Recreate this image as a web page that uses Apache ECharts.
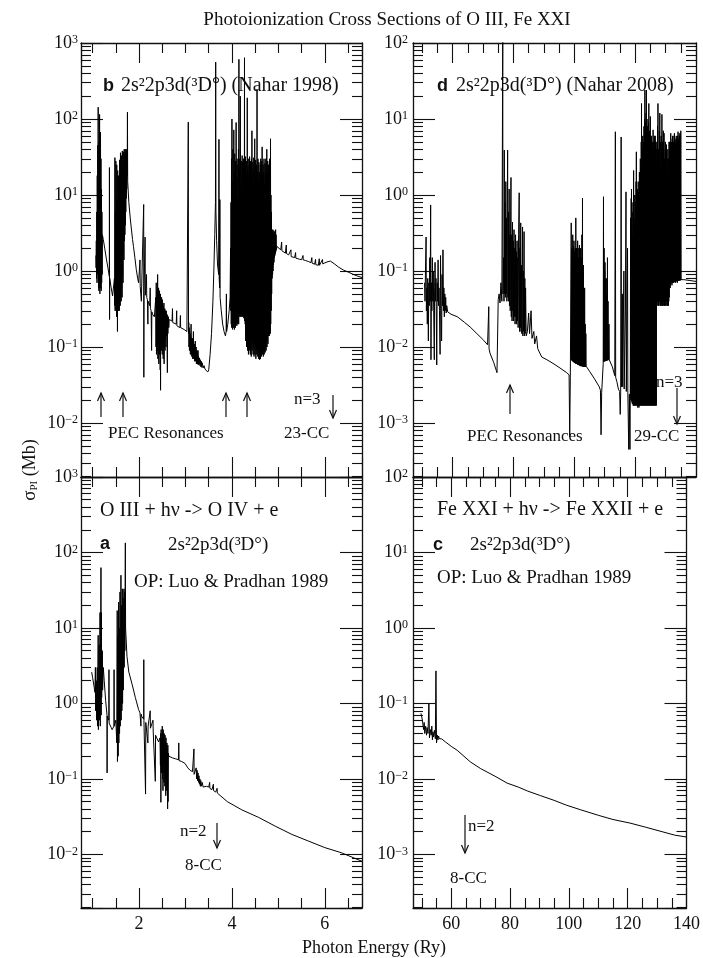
<!DOCTYPE html>
<html><head><meta charset="utf-8">
<script src="https://cdn.jsdelivr.net/npm/echarts@6.0.0/dist/echarts.min.js"></script>
<style>html,body{margin:0;padding:0;background:#fff}#c{width:703px;height:958px}</style>
</head><body><div id="c"></div>
<script>
// ---------------- DATA (photon energy in Ry, cross section in Mb) ----------------
// Panel b : O III 2s2 2p3d(3D°), Nahar 1998
const oiiiNahar = [
[1.07,1.6],[1.075,1.1],[1.08,2.5],[1.085,0.8],[1.09,6],[1.095,0.7],[1.10,18],[1.105,0.9],[1.11,45],[1.115,1.3],[1.12,143],[1.123,2.2],[1.127,0.6],[1.13,14],[1.135,0.55],[1.14,50],[1.145,0.7],[1.15,115],[1.153,1.5],[1.157,0.5],[1.16,25],[1.165,0.6],[1.17,67],[1.175,0.9],[1.18,30],[1.185,0.55],[1.19,12],[1.195,0.7],[1.20,6],[1.205,0.9],[1.21,3],
[1.23,2.6],[1.26,2.0],[1.30,1.4],[1.33,1.1],[1.36,0.85],[1.362,23],[1.365,0.23],[1.368,0.8],[1.40,0.6],[1.43,0.47],[1.45,0.45],
[1.47,0.8],[1.475,0.35],[1.48,31],[1.485,0.3],[1.49,6],[1.495,0.4],[1.50,28],[1.505,0.3],[1.51,4],[1.515,0.25],[1.52,25],[1.525,0.45],[1.53,9],[1.535,0.16],[1.54,21],[1.545,0.35],[1.55,5],[1.555,0.3],[1.56,18],[1.565,0.4],[1.57,11],[1.575,0.3],[1.58,29],[1.585,0.45],[1.59,8],[1.595,0.35],[1.60,36],[1.605,0.5],[1.61,14],[1.615,0.4],[1.62,33],[1.625,0.6],[1.63,19],[1.635,0.45],[1.64,38],[1.645,0.9],[1.65,24],[1.655,0.7],[1.66,37],[1.665,1.8],[1.67,29],[1.675,1.4],[1.68,40],[1.685,2.5],[1.69,33],[1.695,3],[1.70,40],[1.705,4],[1.71,35],[1.715,6],[1.72,40],[1.725,9],[1.73,37],[1.735,12],[1.74,40],[1.745,18],[1.75,123],[1.755,15],
[1.78,8],[1.81,5],[1.83,3.8],[1.86,2.6],[1.88,2.1],[1.91,1.5],[1.94,1.05],[1.97,0.8],[1.99,0.7],
[2.01,0.66],[2.02,1.4],[2.025,0.62],[2.04,0.6],[2.05,0.4],[2.055,0.58],[2.07,0.56],[2.085,0.55],[2.10,7.5],[2.103,0.04],[2.107,0.55],[2.12,0.52],[2.13,2.8],[2.135,0.48],[2.15,0.5],[2.16,0.9],[2.165,0.45],[2.18,0.42],[2.19,0.2],[2.195,0.4],[2.21,0.38],[2.23,0.35],[2.24,0.6],[2.245,0.32],[2.26,0.3],[2.27,0.09],[2.275,0.29],[2.29,0.27],[2.31,0.26],[2.33,0.25],[2.35,0.25],
[2.36,0.45],[2.365,0.1],[2.37,0.7],[2.375,0.08],[2.38,0.45],[2.385,0.12],[2.39,0.55],[2.395,0.09],[2.40,0.9],[2.405,0.07],[2.41,0.5],[2.415,0.12],[2.42,0.6],[2.425,0.06],[2.43,0.42],[2.435,0.1],[2.44,0.55],[2.445,0.08],[2.45,0.4],[2.455,0.05],[2.46,0.5],[2.463,0.027],[2.467,0.45],[2.47,0.12],[2.475,0.38],[2.48,0.09],[2.485,0.45],[2.49,0.13],[2.495,0.35],[2.50,0.08],[2.505,0.42],[2.51,0.11],[2.515,0.35],[2.52,0.07],[2.525,0.33],[2.53,0.1],[2.535,0.38],[2.54,0.06],[2.545,0.3],[2.55,0.12],[2.555,0.32],[2.56,0.09],[2.565,0.3],[2.57,0.13],[2.575,0.28],[2.58,0.1],[2.585,0.3],[2.59,0.14],[2.60,0.27],[2.605,0.08],[2.61,0.046],[2.615,0.26],[2.62,0.15],[2.63,0.25],[2.64,0.18],[2.65,0.23],
[2.68,0.22],[2.71,0.22],[2.72,0.32],[2.725,0.21],[2.76,0.2],[2.80,0.2],[2.81,0.3],[2.815,0.19],[2.85,0.19],[2.88,0.18],[2.89,0.26],[2.895,0.18],[2.93,0.17],[2.97,0.17],[3.00,0.17],[3.03,0.16],[3.05,0.16],
[3.06,91],[3.065,0.15],
[3.07,0.21],[3.075,0.1],[3.08,0.18],[3.085,0.09],[3.09,0.16],[3.095,0.1],[3.10,0.15],[3.105,0.08],[3.11,0.14],[3.115,0.09],[3.12,0.2],[3.125,0.08],[3.13,0.13],[3.135,0.075],[3.14,0.12],[3.145,0.085],[3.15,0.13],[3.155,0.07],[3.16,0.11],[3.165,0.08],[3.17,0.16],[3.175,0.07],[3.18,0.1],[3.185,0.075],[3.19,0.11],[3.195,0.065],[3.20,0.1],[3.205,0.07],[3.21,0.12],[3.215,0.065],[3.22,0.09],[3.225,0.07],[3.23,0.1],[3.235,0.06],[3.24,0.085],[3.245,0.065],[3.25,0.09],[3.255,0.06],[3.26,0.08],[3.265,0.062],[3.27,0.09],[3.275,0.058],[3.28,0.075],[3.29,0.06],[3.30,0.072],[3.31,0.057],[3.32,0.068],[3.33,0.055],[3.34,0.065],[3.35,0.054],[3.36,0.062],[3.38,0.053],[3.40,0.057],[3.42,0.051],[3.44,0.053],[3.46,0.049],[3.48,0.047],[3.50,0.05],
[3.53,0.08],[3.56,0.15],[3.59,0.4],[3.61,1.0],[3.63,3],[3.645,8],[3.65,560],[3.655,6],[3.67,2.5],[3.69,1.2],[3.715,0.9],[3.72,54],[3.725,0.8],[3.735,0.6],[3.74,8.7],[3.745,0.45],[3.77,0.3],[3.80,0.2],[3.83,0.16],[3.86,0.14],[3.875,0.16],[3.88,0.5],[3.885,0.16],[3.91,0.2],[3.94,0.3],[3.96,0.45],
[3.97,2],[3.975,0.3],[3.98,8],[3.985,0.2],[3.99,30],[3.995,0.18],[4.00,100],[4.005,0.2],[4.01,15],[4.015,0.17],[4.02,40],[4.025,0.2],[4.03,10],[4.035,0.18],[4.04,72],[4.045,0.22],[4.05,20],[4.055,0.17],[4.06,35],[4.065,0.2],[4.07,12],[4.075,0.18],[4.08,28],[4.085,0.2],[4.09,90],[4.095,0.21],[4.10,18],[4.105,0.19],[4.11,30],[4.115,0.24],[4.12,9],[4.125,0.2],[4.13,25],[4.135,0.22],[4.14,40],[4.145,0.2],[4.15,610],[4.155,0.25],[4.16,22],[4.165,0.26],[4.17,30],[4.175,0.25],[4.18,200],[4.185,0.27],[4.19,15],[4.195,0.25],[4.20,28],[4.205,0.26],[4.21,12],[4.215,0.25],[4.22,33],[4.225,0.27],[4.23,27],[4.235,0.25],[4.24,18],[4.245,0.26],[4.25,30],[4.255,0.24],[4.26,14],[4.265,0.25],[4.27,640],[4.275,0.22],[4.28,25],[4.285,0.2],[4.29,32],[4.295,0.12],[4.30,18],[4.305,0.15],[4.31,28],[4.315,0.1],[4.32,12],[4.325,0.13],[4.33,190],[4.335,0.09],[4.34,20],[4.345,0.12],[4.35,30],[4.355,0.08],[4.36,15],[4.365,0.11],[4.37,25],[4.375,0.09],[4.38,32],[4.385,0.12],[4.39,10],[4.395,0.08],[4.40,28],[4.405,0.1],[4.41,18],[4.415,0.075],[4.42,30],[4.425,0.11],[4.43,70],[4.435,0.09],[4.44,20],[4.445,0.12],[4.45,27],[4.455,0.08],[4.46,14],[4.465,0.1],[4.47,31],[4.475,0.075],[4.48,22],[4.485,0.11],[4.49,55],[4.495,0.08],[4.50,18],[4.505,0.1],[4.51,29],[4.515,0.07],[4.52,12],[4.525,0.09],[4.53,25],[4.535,0.08],[4.54,245],[4.545,0.11],[4.55,20],[4.555,0.075],[4.56,30],[4.565,0.1],[4.57,15],[4.575,0.07],[4.58,27],[4.585,0.09],[4.59,20],[4.595,0.068],[4.60,11.7],[4.605,0.09],[4.61,25],[4.615,0.07],[4.62,30],[4.625,0.1],[4.63,16],[4.635,0.075],[4.64,28],[4.645,0.09],[4.65,43],[4.655,0.08],[4.66,18],[4.665,0.1],[4.67,25],[4.675,0.075],[4.68,20],[4.685,0.09],[4.69,30],[4.695,0.08],[4.70,14],[4.705,0.11],[4.71,26],[4.715,0.085],[4.72,18],[4.725,0.1],[4.73,30],[4.735,0.09],[4.74,22],[4.745,0.12],[4.75,40],[4.755,0.1],[4.76,16],[4.765,0.13],[4.77,28],[4.775,0.11],[4.78,20],[4.785,0.14],[4.79,25],[4.795,0.15],[4.80,12],[4.805,0.14],[4.81,30],[4.815,0.16],[4.82,18],[4.825,0.15],[4.83,55],[4.835,0.2],[4.84,10],[4.845,0.3],[4.85,6],[4.855,0.5],[4.86,3.5],[4.865,0.8],[4.87,3.2],[4.875,0.9],[4.88,3.5],[4.885,1.0],[4.89,3],[4.895,1.2],[4.90,3.4],[4.905,1.3],[4.91,3],[4.915,1.5],[4.92,3.3],[4.925,1.6],[4.93,3],[4.935,1.7],[4.94,3.5],[4.945,1.8],[4.95,3],[4.955,1.9],
[4.97,2.1],[5.0,2.0],[5.05,1.9],[5.07,2.4],[5.075,1.85],[5.1,1.8],[5.15,1.72],[5.17,2.2],[5.175,1.7],[5.22,1.63],[5.25,1.58],[5.27,1.9],[5.275,1.55],[5.3,1.53],[5.35,1.5],[5.37,1.75],[5.375,1.48],[5.4,1.46],[5.45,1.43],[5.5,1.41],[5.53,1.6],[5.535,1.4],[5.58,1.38],[5.65,1.33],[5.7,1.29],[5.72,1.5],[5.725,1.27],[5.78,1.23],[5.80,1.42],[5.805,1.21],[5.83,1.2],[5.86,1.19],[5.88,1.45],[5.885,1.19],[5.92,1.22],[5.95,1.42],[5.955,1.24],[6.0,1.28],[6.07,1.33],[6.12,1.35],[6.2,1.25],[6.3,1.12],[6.4,1.03],[6.5,0.97],[6.6,0.91],[6.7,0.86],[6.8,0.82]
];

// Panel d : Fe XXI 2s2 2p3d(3D°), Nahar 2008
const fexxiNahar = [
[50.8,0.07],[50.95,0.04],[51.1,0.1],[51.3,0.28],[51.4,0.03],[51.55,0.06],[51.7,0.02],[51.85,0.08],[52.05,0.012],[52.2,0.07],[52.35,0.035],[52.5,0.15],[52.65,0.04],[52.8,0.74],[52.9,0.0068],[53.05,0.07],[53.2,0.03],[53.35,0.15],[53.5,0.04],[53.65,0.1],[53.8,0.03],[54.0,0.0068],[54.1,0.06],[54.25,0.13],[54.4,0.04],[54.55,0.08],[54.8,0.0058],[54.95,0.07],[55.1,0.04],[55.25,0.14],[55.4,0.035],[55.55,0.06],[55.7,0.03],[55.9,0.008],[56.05,0.16],[56.2,0.03],[56.4,0.012],[56.55,0.09],[56.7,0.035],[56.85,0.19],[57.0,0.03],[57.15,0.06],[57.3,0.025],[57.45,0.05],[57.6,0.03],[57.75,0.045],[57.9,0.028],[58.1,0.035],[58.4,0.029],[58.9,0.028],
[59.5,0.027],[61.6,0.025],[64,0.021],[66,0.018],[68,0.015],[70.2,0.0123],[71.5,0.0107],[71.9,0.034],[72.0,0.0095],[72.3,0.0083],[73.5,0.0063],[74.6,0.0046],
[75.0,0.042],[75.3,0.05],[75.6,0.038],[75.9,0.07],[76.2,0.04],[76.5,150],[76.55,0.05],[76.8,0.15],[76.9,0.04],[77.0,3.9],[77.1,0.05],[77.25,0.8],[77.35,0.045],[77.5,1.5],[77.6,0.05],[77.75,0.5],[77.85,0.04],[78.0,0.9],[78.1,3.9],[78.2,0.045],[78.35,0.6],[78.45,0.04],[78.6,1.2],[78.7,0.035],[78.85,0.3],[78.95,0.03],[79.1,0.6],[79.2,1.7],[79.3,0.025],[79.45,0.3],[79.55,0.022],[79.7,0.44],[79.8,0.03],[79.95,0.25],[80.05,0.022],[80.2,0.35],[80.3,0.025],[80.45,0.2],[80.55,0.02],[80.7,0.3],[80.8,0.025],[80.95,0.18],[81.05,0.02],[81.2,0.25],[81.3,0.022],[81.45,0.15],[81.55,0.018],[81.7,0.3],[81.9,1.07],[82.0,0.016],[82.15,0.2],[82.25,0.018],[82.4,0.43],[82.5,0.016],[82.65,0.12],[82.75,0.015],[83.0,0.38],[83.1,0.014],[83.25,0.1],[83.35,0.016],[83.5,0.33],[83.6,0.014],[83.75,0.08],[83.85,0.015],[84.0,0.06],[84.2,0.014],[84.6,0.016],
[85.0,0.028],[85.3,0.015],[85.8,0.03],[86.1,0.013],[86.7,0.016],[87.0,0.011],[87.6,0.014],[88.0,0.0095],[89.3,0.0074],[91,0.0068],[93,0.0061],[95,0.0054],[97.5,0.0046],
[98.3,0.0043],[98.5,0.00066],[98.7,0.004],
[99.0,0.43],[99.05,0.007],[99.1,0.1],[99.15,0.0068],[99.2,0.2],[99.25,0.0066],[99.3,0.08],[99.35,0.0068],[99.4,0.15],[99.45,0.0065],[99.5,0.3],[99.55,0.0066],[99.6,0.1],[99.65,0.0064],[99.7,0.21],[99.75,0.0065],[99.8,0.12],[99.85,0.0063],[99.9,0.25],[99.95,0.0064],[100.0,0.1],[100.05,0.0062],[100.1,0.18],[100.15,0.0063],[100.2,0.08],[100.25,0.0062],[100.3,0.2],[100.35,0.0061],[100.4,0.12],[100.45,0.0062],[100.5,0.5],[100.55,0.006],[100.6,0.1],[100.65,0.0061],[100.7,0.2],[100.75,0.006],[100.8,0.07],[100.85,0.0061],[100.9,0.15],[100.95,0.006],[101.0,0.1],[101.05,0.0059],[101.1,0.25],[101.15,0.006],[101.2,0.08],[101.25,0.0059],[101.3,0.15],[101.35,0.0058],[101.4,0.06],[101.45,0.0059],[101.5,0.2],[101.55,0.0058],[101.6,0.1],[101.65,0.0057],[101.7,0.22],[101.75,0.0058],[101.8,0.05],[101.85,0.0057],[101.9,0.12],[101.95,0.0058],[102.0,0.07],[102.05,0.0057],[102.1,0.2],[102.15,0.0056],[102.2,0.05],[102.25,0.0057],[102.3,0.15],[102.35,0.0056],[102.4,0.08],[102.45,0.0057],[102.5,0.3],[102.55,0.0056],[102.6,0.06],[102.65,0.0056],[102.7,0.91],[102.75,0.0056],[102.8,0.1],[102.85,0.0055],[102.9,0.04],[102.95,0.0056],[103.0,0.12],[103.1,0.0055],[103.2,0.03],[103.3,0.0055],[103.4,0.06],[103.5,0.0055],[103.6,0.02],[103.7,0.0055],[103.8,0.015],[103.9,0.0056],
[105,0.0048],[106.5,0.0039],[108.2,0.003],
[108.6,0.0027],[108.8,0.0007],[109.0,0.0025],[109.5,0.006],[109.6,0.95],[109.65,0.0065],[109.7,0.1],[109.75,0.0064],[109.8,0.2],[109.85,0.0066],[109.9,0.05],[109.95,0.0065],[110.0,0.1],[110.05,0.0066],[110.1,0.13],[110.15,0.0065],[110.2,0.04],[110.25,0.0066],[110.3,0.08],[110.35,0.0067],[110.4,0.03],[110.45,0.0066],[110.5,0.08],[110.55,0.0067],[110.6,0.02],[110.65,0.0066],[110.7,0.05],[110.75,0.0067],[110.8,0.015],[110.85,0.0067],[110.9,0.15],[110.95,0.0068],[111.0,0.02],[111.05,0.0067],[111.1,0.04],[111.15,0.0068],[111.2,0.012],[111.3,0.0068],[111.4,0.02],[111.5,0.0068],[111.8,0.0068],
[112.5,0.0055],[113.3,0.0042],[113.5,6.8],[113.6,0.004],[114.0,0.0035],[114.5,0.0028],[114.9,0.0026],[115.1,0.0013],[115.25,0.0025],[115.4,5.8],[115.5,0.003],[115.8,0.05],[115.9,0.003],
[116.3,0.1],[116.4,0.0028],[116.8,0.03],[117.0,1.1],[117.1,0.0026],[117.5,0.2],[117.6,0.0025],[117.9,0.00045],[118.1,0.0024],[118.3,0.00045],[118.4,0.0022],
[118.5,0.5],[118.55,0.0022],[118.6,0.2],[118.65,0.002],[118.7,0.9],[118.75,0.0021],[118.8,1.2],[118.85,0.002],[118.9,0.3],[118.95,0.0019],[119.0,0.6],[119.05,0.0018],[119.1,0.3],[119.15,0.0019],[119.2,0.15],[119.25,0.0018],[119.3,0.8],[119.35,0.0017],[119.4,0.4],[119.45,0.0018],[119.5,2.1],[119.55,0.0017],[119.6,0.5],[119.65,0.0018],[119.7,0.25],[119.75,0.0017],[119.8,0.4],[119.85,0.0018],[119.9,1.0],[119.95,0.0017],[120.0,0.3],[120.05,0.0018],[120.1,0.8],[120.15,0.0017],[120.2,0.5],[120.25,0.0019],[120.3,1.5],[120.35,0.0017],[120.4,3.7],[120.45,0.0018],[120.5,0.6],[120.55,0.0017],[120.6,0.3],[120.65,0.0018],[120.7,0.5],[120.75,0.0017],[120.8,1.2],[120.85,0.0016],[120.9,0.4],[120.95,0.0017],[121.0,1.5],[121.05,0.0018],[121.1,0.6],[121.15,0.0017],[121.2,1.1],[121.25,0.0016],[121.3,0.8],[121.35,0.0017],[121.4,2.0],[121.45,0.0018],[121.5,0.6],[121.55,0.0017],[121.6,1.4],[121.65,0.0018],[121.7,3.0],[121.75,0.0017],[121.8,2.5],[121.85,0.0018],[121.9,1.0],[121.95,0.0017],[122.0,5.0],[122.05,0.0018],[122.1,16],[122.15,0.0017],[122.2,2.0],[122.25,0.0018],[122.3,4.0],[122.35,0.0017],[122.4,1.8],[122.45,0.0018],[122.5,6.0],[122.55,0.0017],[122.6,3.0],[122.65,0.0018],[122.7,5.0],[122.75,0.0017],[122.8,2.0],[122.85,0.0018],[122.9,8.0],[122.95,0.0017],[123.0,3.0],[123.05,0.0018],[123.1,10],[123.15,0.0017],[123.2,24],[123.25,0.0018],[123.3,5],[123.35,0.0017],[123.4,9],[123.45,0.0018],[123.5,4],[123.55,0.0017],[123.6,12],[123.65,0.0018],[123.7,24],[123.75,0.0017],[123.8,6],[123.85,0.0018],[123.9,10],[123.95,0.0017],[124.0,6],[124.05,0.0018],[124.1,8],[124.15,0.0017],[124.2,4],[124.25,0.0018],[124.3,3],[124.35,0.0017],[124.4,9],[124.45,0.0018],[124.5,16],[124.55,0.0017],[124.6,5],[124.65,0.0018],[124.7,7],[124.75,0.0017],[124.8,4],[124.85,0.0018],[124.9,6],[124.95,0.0017],[125.0,10.8],[125.05,0.0018],[125.1,3],[125.15,0.0017],[125.2,5],[125.25,0.0018],[125.3,2],[125.35,0.0017],[125.4,6],[125.45,0.0018],[125.5,3],[125.55,0.0017],[125.6,5],[125.65,0.0018],[125.7,2.5],[125.75,0.0017],[125.8,4],[125.85,0.0018],[125.9,7.2],[125.95,0.0017],[126.0,3],[126.05,0.0018],[126.1,5],[126.15,0.0017],[126.2,3],[126.25,0.0018],[126.3,6],[126.35,0.0017],[126.4,2],[126.45,0.0018],[126.5,4],[126.55,0.0017],[126.6,6],[126.65,0.0018],[126.7,3],[126.75,0.0017],[126.8,5],[126.85,0.0018],[126.9,4],[126.95,0.0017],
[127.0,0.035],[127.1,3],[127.15,0.04],[127.2,5],[127.25,0.035],[127.35,8],[127.4,0.04],[127.5,16],[127.55,0.04],[127.65,4],[127.7,0.035],[127.8,3],[127.85,0.035],[127.95,7],[128.0,0.04],[128.1,12],[128.15,0.04],[128.25,5],[128.3,0.035],[128.4,2],[128.45,0.035],[128.55,6],[128.6,0.04],[128.7,4],[128.75,0.035],[128.8,11.5],[128.85,0.04],[128.95,5],[129.0,0.035],[129.1,3],[129.15,0.035],[129.25,7],[129.3,0.04],[129.4,4],[129.45,0.035],[129.5,6.5],[129.55,0.04],[129.65,3],[129.7,0.035],[129.8,2.5],[129.85,0.035],[129.95,5],[130.0,0.04],[130.1,3],[130.15,0.035],[130.3,4.6],[130.35,0.04],[130.45,3],[130.5,0.035],[130.6,2],[130.65,0.035],[130.75,4],[130.8,0.04],[130.9,3],[130.95,0.035],[131.0,3],[131.05,0.04],[131.15,5],[131.2,0.045],
[131.3,4],[131.35,0.06],[131.4,5],[131.5,0.06],[131.6,4.5],[131.65,0.065],[131.7,6.5],[131.8,0.07],[131.9,5],[131.95,0.07],[132.0,4],[132.1,0.065],[132.2,5.5],[132.25,0.07],[132.3,6],[132.4,0.07],[132.5,4.5],[132.55,0.07],[132.6,5],[132.7,0.07],[132.8,6],[132.85,0.072],[132.9,6.5],[133.0,0.075],[133.1,5],[133.15,0.072],[133.2,4.5],[133.3,0.07],[133.4,5.5],[133.45,0.073],[133.5,6],[133.6,0.075],[133.7,5],[133.75,0.073],[133.8,5],[133.9,0.07],[134.0,6],[134.05,0.074],[134.1,6.8],[134.2,0.075],[134.3,5],[134.35,0.075],[134.4,5.5],[134.5,0.075],[134.6,6],[134.65,0.076],[134.7,6.5],[134.8,0.075],[134.9,6],[134.95,0.076],[135.0,7],[135.1,0.077],
[136,0.077],[138,0.075],[140,0.073]
];

// Panel a : O III, Opacity Project (Luo & Pradhan 1989)
const oiiiOP = [
[0.98,2.6],[1.0,2.2],[1.03,1.7],[1.05,1.4],[1.06,3],[1.065,0.8],[1.08,2],[1.085,0.6],[1.10,3],[1.105,0.5],[1.12,8],[1.125,0.45],[1.14,6],[1.145,0.6],[1.16,16],[1.165,0.5],[1.18,63],[1.185,0.7],[1.19,16],[1.195,1.2],[1.21,5],[1.215,1.5],[1.23,3],
[1.25,2],[1.28,1.1],[1.31,0.7],[1.312,0.12],[1.315,0.68],[1.35,0.6],[1.352,2.8],[1.355,0.55],[1.40,0.48],[1.42,0.45],[1.46,0.5],[1.462,2.8],[1.465,0.5],
[1.50,0.6],[1.52,0.3],[1.53,17],[1.535,0.17],[1.545,8],[1.55,0.2],[1.56,22],[1.565,0.3],[1.575,10],[1.58,0.4],[1.59,30],[1.595,0.5],[1.61,50],[1.615,0.6],[1.625,20],[1.63,0.8],[1.64,33],[1.645,1],[1.655,25],[1.66,1.5],[1.675,33],[1.68,3],[1.69,30],[1.695,5],[1.70,35],[1.705,134],[1.71,10],
[1.74,4.2],[1.78,2.6],[1.85,1.8],[1.92,1.2],[1.99,0.83],
[2.02,0.75],[2.04,0.5],[2.045,0.72],[2.06,0.67],[2.10,0.62],[2.102,3.8],[2.105,0.6],[2.13,0.58],[2.14,0.063],[2.145,0.56],[2.17,0.55],[2.19,0.3],[2.195,0.5],[2.22,0.5],[2.24,0.8],[2.245,0.47],[2.28,0.45],[2.30,0.6],[2.305,0.42],[2.33,0.4],[2.35,0.093],[2.355,0.38],[2.38,0.35],[2.42,0.31],
[2.45,0.35],[2.46,0.15],[2.465,0.4],[2.47,0.049],[2.475,0.45],[2.48,0.12],[2.485,0.35],[2.49,0.2],[2.50,0.5],[2.505,0.1],[2.51,0.4],[2.515,0.07],[2.52,0.45],[2.525,0.15],[2.53,0.35],[2.535,0.09],[2.54,0.4],[2.545,0.12],[2.55,0.3],[2.555,0.08],[2.56,0.38],[2.565,0.1],[2.57,0.3],[2.575,0.06],[2.58,0.35],[2.585,0.12],[2.59,0.28],[2.595,0.07],[2.60,0.3],[2.605,0.1],[2.61,0.25],[2.615,0.04],[2.62,0.28],[2.625,0.05],[2.63,0.22],[2.64,0.2],
[2.67,0.2],[2.72,0.19],[2.78,0.185],[2.85,0.18],[2.855,0.3],[2.86,0.175],[2.92,0.17],[2.99,0.16],[3.05,0.14],[3.10,0.13],[3.15,0.125],[3.18,0.12],[3.182,0.25],[3.185,0.115],
[3.22,0.11],[3.23,0.14],[3.24,0.1],[3.25,0.13],[3.26,0.095],[3.27,0.12],[3.28,0.09],[3.29,0.11],[3.30,0.085],[3.31,0.1],[3.32,0.08],[3.33,0.095],[3.34,0.08],[3.36,0.09],[3.38,0.078],
[3.45,0.08],[3.50,0.078],[3.52,0.09],[3.525,0.075],[3.57,0.072],[3.60,0.085],[3.605,0.07],[3.65,0.067],[3.68,0.075],[3.685,0.065],[3.71,0.062],
[3.9,0.05],[4.21,0.039],[4.57,0.031],[4.93,0.0237],[5.29,0.0184],[5.65,0.015],[6.0,0.0123],[6.36,0.0105],[6.8,0.0081]
];

// Panel c : Fe XXI, Opacity Project (Luo & Pradhan 1989)
const fexxiOP = [
[49.7,0.074],[50.2,0.06],[50.6,0.045],[50.8,0.056],[51.0,0.04],[51.3,0.05],[51.6,0.038],[51.8,0.048],[52.1,0.04],[52.4,0.1],[52.6,0.035],[52.9,0.045],[53.2,0.038],[53.4,0.05],[53.6,0.033],[53.8,0.042],[54.0,0.036],[54.3,0.044],[54.6,0.034],[54.8,0.27],[55.0,0.03],[55.3,0.038],[55.5,0.033],[55.7,0.037],[56.0,0.034],[56.3,0.036],[56.7,0.034],
[58,0.031],[60,0.027],[62,0.024],[64,0.0205],[66.5,0.0168],[70,0.0137],[75.2,0.0107],[79,0.0088],[82.8,0.0078],[86,0.0069],[90.4,0.006],[95,0.0052],[99.1,0.0045],[104,0.0039],[110,0.0033],[115,0.0029],[120.8,0.0026],[126,0.0023],[131.7,0.002],[136,0.0018],[140,0.0017]
];

// axis ranges and tick labels
const oiiiRange = [0.75, 6.8];
const fexxiRange = [47, 140];
const oiiiTicks = [2, 4, 6];
const fexxiTicks = [60, 80, 100, 120, 140];
const oiiiYRange = [0.00195, 1000];
const fexxiYRange = [0.000195, 100];
const oiiiDecades = [-2, -1, 0, 1, 2, 3];
const fexxiDecades = [-3, -2, -1, 0, 1, 2];

// ---------------- CHART ----------------
const SERIF = '"Liberation Serif","Times New Roman",serif';
const SANS = '"Liberation Sans",Arial,sans-serif';
const INK = '#111';

function decadeFmt(list) {
  return function (v) {
    const e = Math.log10(v), n = Math.round(e);
    if (Math.abs(e - n) > 1e-6 || list.indexOf(n) < 0) return '';
    return '{b|10}{s|' + (n < 0 ? '\u2212' + (-n) : n) + '}';
  };
}
function tickFmt(list) {
  return function (v) {
    for (const t of list) if (Math.abs(v - t) < 1e-9) return String(t);
    return '';
  };
}
function xAx(g, pos, range, split, labels) {
  return {
    type: 'value', gridIndex: g, position: pos, min: range[0], max: range[1], splitNumber: split,
    axisLine: { show: true, onZero: false, lineStyle: { color: INK, width: 1.3 } },
    axisTick: { show: true, inside: true, length: 20, lineStyle: { color: INK, width: 1.1 } },
    minorTick: { show: true, splitNumber: 4, length: 10, lineStyle: { color: INK, width: 1.1 } },
    splitLine: { show: false }, minorSplitLine: { show: false },
    axisLabel: labels ? { show: true, margin: 7, fontFamily: SERIF, fontSize: 18, color: INK, formatter: tickFmt(labels) } : { show: false }
  };
}
function yAx(g, pos, range, decades, margin) {
  return {
    type: 'log', logBase: 10, gridIndex: g, position: pos, min: range[0], max: range[1],
    axisLine: { show: true, onZero: false, lineStyle: { color: INK, width: 1.3 } },
    axisTick: { show: true, inside: true, length: 22, lineStyle: { color: INK, width: 1.1 } },
    minorTick: { show: true, splitNumber: 9, length: 10, lineStyle: { color: INK, width: 1.1 } },
    splitLine: { show: false }, minorSplitLine: { show: false },
    axisLabel: decades ? {
      show: true, margin: margin, formatter: decadeFmt(decades),
      rich: {
        b: { fontFamily: SERIF, fontSize: 18, color: INK, verticalAlign: 'bottom' },
        s: { fontFamily: SERIF, fontSize: 12, color: INK, verticalAlign: 'top' }
      }
    } : { show: false }
  };
}

const grids = [
  { left: 81, top: 43, width: 281, height: 434 },
  { left: 413, top: 43, width: 283, height: 434 },
  { left: 81, top: 477, width: 281, height: 431 },
  { left: 413, top: 477, width: 283, height: 431 }
];
const xAxes = [
  xAx(0, 'bottom', oiiiRange, 3, null), xAx(0, 'top', oiiiRange, 3, null),
  xAx(1, 'bottom', fexxiRange, 5, null), xAx(1, 'top', fexxiRange, 5, null),
  xAx(2, 'bottom', oiiiRange, 3, oiiiTicks), xAx(2, 'top', oiiiRange, 3, null),
  xAx(3, 'bottom', fexxiRange, 5, fexxiTicks), xAx(3, 'top', fexxiRange, 5, null)
];
const yAxes = [
  yAx(0, 'left', oiiiYRange, oiiiDecades, 3), yAx(0, 'right', oiiiYRange, null),
  yAx(1, 'left', fexxiYRange, fexxiDecades, 5), yAx(1, 'right', fexxiYRange, null),
  yAx(2, 'left', oiiiYRange, oiiiDecades, 3), yAx(2, 'right', oiiiYRange, null),
  yAx(3, 'left', fexxiYRange, fexxiDecades, 5), yAx(3, 'right', fexxiYRange, null)
];
function ser(name, data, i) {
  return { name, type: 'line', data, xAxisIndex: 2 * i, yAxisIndex: 2 * i, showSymbol: false, symbol: 'none',
    lineStyle: { color: '#000', width: 1 }, clip: true, silent: true };
}

function txt(x, y, text, size, family, weight) {
  return { type: 'text', x, y, silent: true, style: { text, fontFamily: family || SERIF, fontSize: size, fontWeight: weight || 'normal', fill: INK, align: 'left', verticalAlign: 'middle' } };
}
function arrow(x, yTail, yHead) {
  const d = yHead < yTail ? 1 : -1;
  return { type: 'group', silent: true, children: [
    { type: 'line', shape: { x1: x, y1: yTail, x2: x, y2: yHead }, style: { stroke: INK, lineWidth: 1.2 } },
    { type: 'polyline', shape: { points: [[x - 3.5, yHead + d * 8], [x, yHead], [x + 3.5, yHead + d * 8]] }, style: { stroke: INK, lineWidth: 1.2, fill: null } }
  ] };
}

const graphics = [
  { type: 'text', x: 387, y: 20, silent: true, style: { text: 'Photoionization Cross Sections of O III, Fe XXI', fontFamily: SERIF, fontSize: 19, fill: INK, align: 'center', verticalAlign: 'middle' } },
  { type: 'text', x: 374, y: 948, silent: true, style: { text: 'Photon Energy (Ry)', fontFamily: SERIF, fontSize: 18, fill: INK, align: 'center', verticalAlign: 'middle' } },
  { type: 'text', x: 30, y: 470, rotation: Math.PI / 2, silent: true, style: { text: '{a|\u03c3}{b|PI} (Mb)', fontFamily: SERIF, fontSize: 18, fill: INK, align: 'center', verticalAlign: 'middle',
    rich: { a: { fontFamily: SERIF, fontSize: 19, fill: INK, verticalAlign: 'top' }, b: { fontFamily: SERIF, fontSize: 11, fill: INK, verticalAlign: 'bottom' } } } },
  // panel b
  txt(103, 86, 'b', 18, SANS, 'bold'),
  txt(121, 86, '2s\u00b22p3d(\u00b3D\u00b0) (Nahar 1998)', 20),
  arrow(101, 417, 393), arrow(123, 417, 393), arrow(226, 417, 393), arrow(247, 417, 393),
  txt(108, 434, 'PEC Resonances', 17),
  txt(294, 400, 'n=3', 17), arrow(333, 395, 418),
  txt(284, 434, '23-CC', 17),
  // panel d
  txt(437, 86, 'd', 18, SANS, 'bold'),
  txt(456, 86, '2s\u00b22p3d(\u00b3D\u00b0) (Nahar 2008)', 20),
  arrow(510, 414, 385),
  txt(467, 437, 'PEC Resonances', 17),
  txt(656, 383, 'n=3', 17), arrow(677, 388, 424),
  txt(634, 437, '29-CC', 17),
  // panel a
  txt(100, 511, 'O III + h\u03bd -> O IV + e', 20),
  txt(100, 544, 'a', 18, SANS, 'bold'),
  txt(168, 545, '2s\u00b22p3d(\u00b3D\u00b0)', 19),
  txt(134, 582, 'OP: Luo & Pradhan 1989', 19),
  txt(180, 832, 'n=2', 17), arrow(217, 823, 848),
  txt(185, 866, '8-CC', 17),
  // panel c
  txt(437, 510, 'Fe XXI + h\u03bd -> Fe XXII + e', 20),
  txt(433, 545, 'c', 18, SANS, 'bold'),
  txt(470, 545, '2s\u00b22p3d(\u00b3D\u00b0)', 19),
  txt(437, 578, 'OP: Luo & Pradhan 1989', 19),
  arrow(465, 815, 853),
  txt(468, 827, 'n=2', 17),
  txt(450, 879, '8-CC', 17)
];

const chart = echarts.init(document.getElementById('c'), null, { renderer: 'canvas' });
chart.setOption({
  animation: false,
  backgroundColor: '#fff',
  grid: grids,
  xAxis: xAxes,
  yAxis: yAxes,
  series: [
    ser('O III (Nahar 1998)', oiiiNahar, 0),
    ser('Fe XXI (Nahar 2008)', fexxiNahar, 1),
    ser('O III (OP)', oiiiOP, 2),
    ser('Fe XXI (OP)', fexxiOP, 3)
  ],
  graphic: graphics
});
</script></body></html>
